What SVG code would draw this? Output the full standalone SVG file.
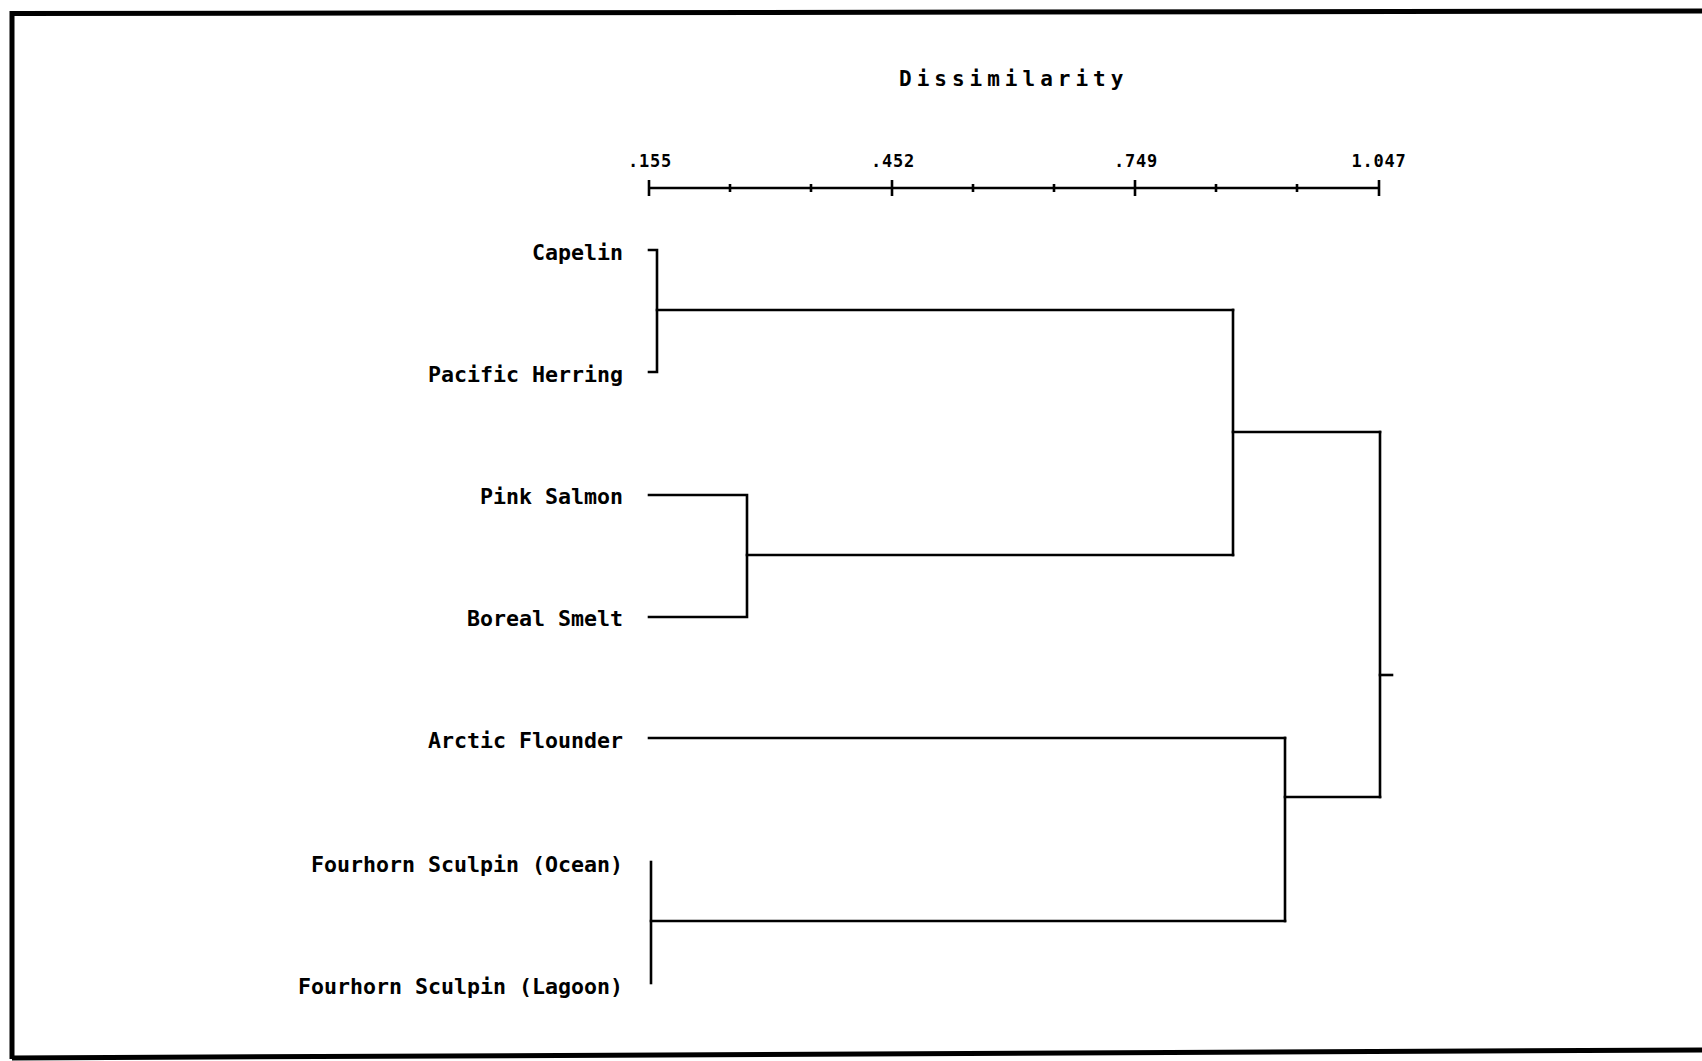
<svg xmlns="http://www.w3.org/2000/svg" width="1702" height="1061" viewBox="0 0 1702 1061">
  <style>
    .frame { fill: none; stroke: #000; stroke-width: 5; }
    .link { fill: none; stroke: #000; stroke-width: 2.6; stroke-linecap: square; }
    .axis { fill: none; stroke: #000; stroke-width: 2.6; }
    .leaf { font-family: "DejaVu Sans Mono", "Liberation Mono", monospace; font-weight: bold; font-size: 21.6px; fill: #000; text-anchor: end; }
    .tick { font-family: "DejaVu Sans Mono", "Liberation Mono", monospace; font-weight: bold; font-size: 17px; fill: #000; text-anchor: middle; letter-spacing: 0.8px; }
    .title { font-family: "DejaVu Sans Mono", "Liberation Mono", monospace; font-weight: bold; font-size: 21px; fill: #000; letter-spacing: 5px; }
  </style>

  <rect width="1702" height="1061" fill="#fff"/>

  <!-- page frame (right side runs off the sheet) -->
  <g id="frame">
    <polyline class="frame" points="1702,11 12,13.5 12,1059"/>
    <line class="frame" x1="12" y1="1058" x2="1702" y2="1050"/>
  </g>

  <!-- dissimilarity scale -->
  <g id="scale">
    <text class="title" x="899" y="86">Dissimilarity</text>
    <text class="tick" x="650" y="167">.155</text>
    <text class="tick" x="893" y="167">.452</text>
    <text class="tick" x="1136" y="167">.749</text>
    <text class="tick" x="1379" y="167">1.047</text>
    <line class="axis" x1="649" y1="188" x2="1379" y2="188"/>
    <g class="axis">
      <line x1="649" y1="180" x2="649" y2="196"/>
      <line x1="892" y1="180" x2="892" y2="196"/>
      <line x1="1135" y1="180" x2="1135" y2="196"/>
      <line x1="1379" y1="180" x2="1379" y2="196"/>
      <line x1="730" y1="184" x2="730" y2="192"/>
      <line x1="811" y1="184" x2="811" y2="192"/>
      <line x1="973" y1="184" x2="973" y2="192"/>
      <line x1="1054" y1="184" x2="1054" y2="192"/>
      <line x1="1216" y1="184" x2="1216" y2="192"/>
      <line x1="1297" y1="184" x2="1297" y2="192"/>
    </g>
  </g>

  <!-- leaves -->
  <g id="capelin"><text class="leaf" x="623" y="260">Capelin</text></g>
  <g id="pacific-herring"><text class="leaf" x="623" y="382">Pacific Herring</text></g>
  <g id="pink-salmon"><text class="leaf" x="623" y="504">Pink Salmon</text></g>
  <g id="boreal-smelt"><text class="leaf" x="623" y="626">Boreal Smelt</text></g>
  <g id="arctic-flounder"><text class="leaf" x="623" y="748">Arctic Flounder</text></g>
  <g id="fourhorn-ocean"><text class="leaf" x="623" y="872">Fourhorn Sculpin (Ocean)</text></g>
  <g id="fourhorn-lagoon"><text class="leaf" x="623" y="994">Fourhorn Sculpin (Lagoon)</text></g>

  <!-- dendrogram branches -->
  <g id="connectors">
    <!-- Capelin + Pacific Herring -->
    <polyline class="link" points="649,250 657,250 657,372 649,372"/>
    <line class="link" x1="657" y1="310" x2="1233" y2="310"/>
    <!-- Pink Salmon + Boreal Smelt -->
    <polyline class="link" points="649,495 747,495 747,617 649,617"/>
    <line class="link" x1="747" y1="555" x2="1233" y2="555"/>
    <!-- upper cluster -->
    <line class="link" x1="1233" y1="310" x2="1233" y2="555"/>
    <line class="link" x1="1233" y1="432" x2="1380" y2="432"/>
    <!-- Fourhorn Sculpin pair -->
    <line class="link" x1="651" y1="862" x2="651" y2="983"/>
    <line class="link" x1="651" y1="921" x2="1285" y2="921"/>
    <!-- Arctic Flounder -->
    <line class="link" x1="649" y1="738" x2="1285" y2="738"/>
    <!-- lower cluster -->
    <line class="link" x1="1285" y1="738" x2="1285" y2="921"/>
    <line class="link" x1="1285" y1="797" x2="1380" y2="797"/>
    <!-- root -->
    <line class="link" x1="1380" y1="432" x2="1380" y2="797"/>
    <line class="link" x1="1380" y1="675" x2="1392" y2="675"/>
  </g>
</svg>
